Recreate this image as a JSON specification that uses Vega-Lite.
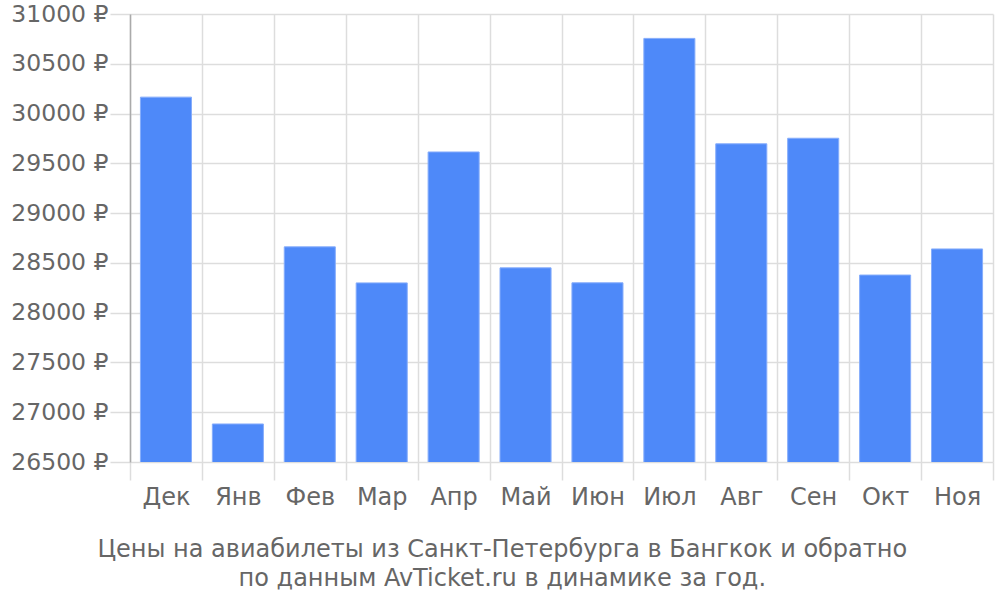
{
  "$schema": "https://vega.github.io/schema/vega-lite/v6.json",
  "autosize": {"type": "none"},
  "padding": {"left": 130, "top": 14, "right": 7, "bottom": 138},
  "width": 863,
  "height": 448,
  "background": "white",
  "config": {"view": {"stroke": null}, "font": "DejaVu Sans"},
  "title": {
    "text": ["Цены на авиабилеты из Санкт-Петербурга в Бангкок и обратно", "по данным AvTicket.ru в динамике за год."],
    "orient": "bottom",
    "anchor": "middle",
    "frame": "bounds",
    "font": "DejaVu Sans",
    "fontSize": 24,
    "fontWeight": "normal",
    "color": "#666666",
    "lineHeight": 29,
    "baseline": "top",
    "offset": 29
  },
  "data": {
    "values": [
      {"month": "Дек", "price": 30165},
      {"month": "Янв", "price": 26882},
      {"month": "Фев", "price": 28661},
      {"month": "Мар", "price": 28299},
      {"month": "Апр", "price": 29614},
      {"month": "Май", "price": 28450},
      {"month": "Июн", "price": 28300},
      {"month": "Июл", "price": 30755},
      {"month": "Авг", "price": 29696},
      {"month": "Сен", "price": 29752},
      {"month": "Окт", "price": 28378},
      {"month": "Ноя", "price": 28640}
    ]
  },
  "mark": {"type": "bar", "color": "#4e89f9", "stroke": "#86adfb", "strokeWidth": 1, "clip": true, "width": {"band": 0.71}},
  "encoding": {
    "x": {
      "field": "month",
      "type": "nominal",
      "sort": null,
      "scale": {"paddingInner": 0, "paddingOuter": 0},
      "axis": {
        "title": null,
        "labelAngle": 0,
        "labelFontSize": 24,
        "labelColor": "#666666",
        "labelFont": "DejaVu Sans",
        "labelPadding": 5,
        "tickBand": "extent",
        "tickSize": 18,
        "tickColor": "#dddddd",
        "tickWidth": 1.5,
        "grid": true,
        "gridColor": "#dddddd",
        "gridWidth": 1.5,
        "domain": false
      }
    },
    "y": {
      "field": "price",
      "type": "quantitative",
      "scale": {"domain": [26500, 31000], "zero": false, "nice": false},
      "axis": {
        "title": null,
        "values": [26500, 27000, 27500, 28000, 28500, 29000, 29500, 30000, 30500, 31000],
        "labelExpr": "format(datum.value, 'd') + ' ₽'",
        "labelFontSize": 23.5,
        "labelColor": "#666666",
        "labelFont": "DejaVu Sans",
        "labelPadding": 2,
        "tickSize": 20,
        "tickColor": "#dddddd",
        "tickWidth": 1.5,
        "grid": true,
        "gridColor": "#dddddd",
        "gridWidth": 1.5,
        "domain": true,
        "domainColor": "#aaaaaa",
        "domainWidth": 1.5
      }
    }
  }
}
